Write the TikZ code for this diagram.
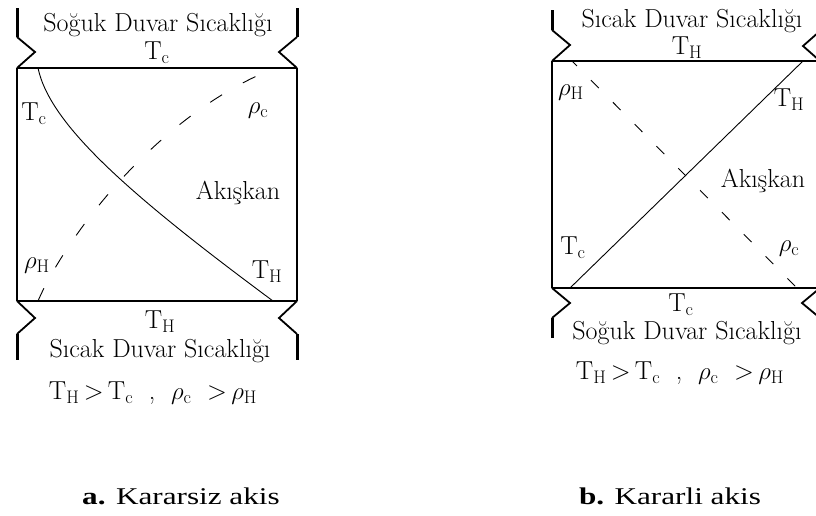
\documentclass[tikz,border=0pt]{standalone}
\usepackage{fontspec}
\newfontfamily\capfont{Liberation Serif}
\begin{document}
\begin{tikzpicture}[x=1pt,y=-1pt,
  wall/.style={line width=2.6pt},
  side/.style={line width=1.3pt},
  brk/.style={line width=1.8pt, line join=miter},
  post/.style={line width=3pt},
  prof/.style={line width=0.9pt},
  dprofa/.style={line width=0.9pt, dash pattern=on 14pt off 24pt},
  dprofb/.style={line width=0.9pt, dash pattern=on 11pt off 20pt, dash phase=4pt},
  lbl/.style={inner sep=0pt, font=\fontsize{26}{30}\selectfont},
  captext/.style={inner sep=0pt}]
\useasboundingbox (0,0) rectangle (816,515);
\clip (0,0) rectangle (816,515);

% ---------- left diagram ----------
\coordinate (aTL) at (17,68);
\coordinate (aTR) at (297,68);
\coordinate (aBL) at (17,301);
\coordinate (aBR) at (297,301);
\draw[side] (aTL) -- (aBL) (aTR) -- (aBR);
\draw[wall] (aTL) -- (aTR) (aBL) -- (aBR);
\draw[post] (17,8) -- (17,37);
\draw[brk] (17,37) -- (35,52) -- (aTL);
\draw[post] (297,8) -- (297,37);
\draw[brk] (297,37) -- (279,52) -- (aTR);
\draw[brk] (aBL) -- (35,318) -- (17,334);
\draw[post] (17,334) -- (17,360);
\draw[brk] (aBR) -- (279,318) -- (297,334);
\draw[post] (297,334) -- (297,360);

\coordinate (aT0) at (38,68);
\coordinate (aT1) at (273,301);
\draw[prof] (aT0) .. controls (50,125) and (130,195) .. (aT1);
\coordinate (aR0) at (38,301);
\coordinate (aR1) at (275,68);
\draw[dprofa] (aR0) .. controls (62,245) and (150,118) .. (aR1);

\node[lbl] (aTop) at (158,25) {Soğuk Duvar Sıcaklığı};
\node[lbl] (aTopT) at (157,53) {T$_\mathrm{c}$};
\node[lbl] (aTc) at (34,114) {T$_\mathrm{c}$};
\node[lbl] (aRc) at (258,111) {$\rho_\mathrm{c}$};
\node[lbl] (aAk) at (238,193) {Akışkan};
\node[lbl] (aRh) at (37,266) {$\rho_\mathrm{H}$};
\node[lbl] (aTh) at (267,272) {T$_\mathrm{H}$};
\node[lbl] (aBotT) at (160,322) {T$_\mathrm{H}$};
\node[lbl] (aBot) at (160,351) {Sıcak Duvar Sıcaklığı};
\node[lbl] (aF) at (153,393) {T$_\mathrm{H}$\,>\,T$_\mathrm{c}$\ \ ,\ \ $\rho_\mathrm{c}$\ \ >\,$\rho_\mathrm{H}$};

% ---------- right diagram ----------
\coordinate (bTL) at (552,61);
\coordinate (bTR) at (820,61);
\coordinate (bBL) at (552,288);
\coordinate (bBR) at (820,288);
\draw[side] (bTL) -- (bBL) (bTR) -- (bBR);
\draw[wall] (bTL) -- (bTR) (bBL) -- (bBR);
\draw[post] (552,10) -- (552,30);
\draw[brk] (552,30) -- (570,45) -- (bTL);
\draw[brk] (820,31) -- (803,46) -- (bTR);
\draw[brk] (bBL) -- (570,303) -- (552,318);
\draw[post] (552,318) -- (552,338);
\draw[brk] (bBR) -- (802,303) -- (820,318);

\coordinate (bT0) at (570,288);
\coordinate (bT1) at (803,61);
\draw[prof] (bT0) -- (bT1);
\coordinate (bR0) at (572,61);
\coordinate (bR1) at (797,288);
\draw[dprofb] (bR0) -- (bR1);

\node[lbl] (bTop) at (692,21) {Sıcak Duvar Sıcaklığı};
\node[lbl] (bTopT) at (687,48) {T$_\mathrm{H}$};
\node[lbl] (bRh) at (571,93) {$\rho_\mathrm{H}$};
\node[lbl] (bTh) at (789,100) {T$_\mathrm{H}$};
\node[lbl] (bAk) at (763,181) {Akışkan};
\node[lbl] (bTc) at (573,248) {T$_\mathrm{c}$};
\node[lbl] (bRc) at (789,249) {$\rho_\mathrm{c}$};
\node[lbl] (bBotT) at (681,305) {T$_\mathrm{c}$};
\node[lbl] (bBot) at (687,333) {Soğuk Duvar Sıcaklığı};
\node[lbl] (bF) at (680,373) {T$_\mathrm{H}$\,>\,T$_\mathrm{c}$\ \ ,\ \ $\rho_\mathrm{c}$\ \ >\,$\rho_\mathrm{H}$};

% ---------- captions ----------
\node[captext] (capA) at (181,496) {\scalebox{1.3}[1]{\fontsize{24}{28}\capfont\textbf{a.} Kararsiz akis}};
\node[captext] (capB) at (670,496) {\scalebox{1.3}[1]{\fontsize{24}{28}\capfont\textbf{b.} Kararli akis}};
\end{tikzpicture}
\end{document}
